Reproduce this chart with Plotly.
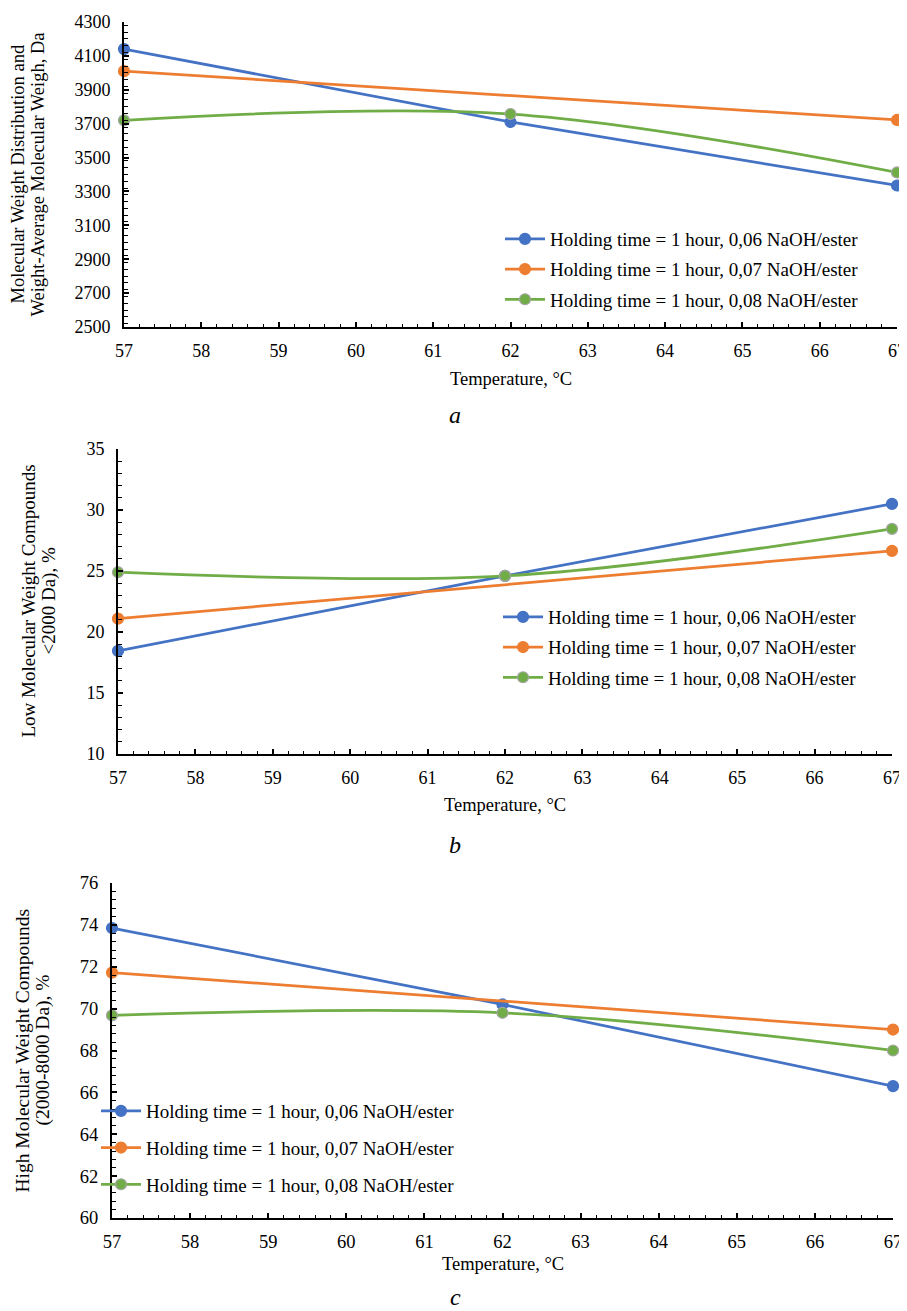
import plotly.graph_objects as go

# ---------------- data ----------------
temps_full = [57, 62, 67]
temps_ends = [57, 67]

series_names = [
    "Holding time = 1 hour, 0,06 NaOH/ester",
    "Holding time = 1 hour, 0,07 NaOH/ester",
    "Holding time = 1 hour, 0,08 NaOH/ester",
]

# panel a: molecular weight, Da
mw_006 = [4140, 3710, 3335]
mw_007 = [4010, 3722]
mw_008 = [3720, 3757, 3412]

# panel b: low molecular weight compounds, %
low_006 = [18.45, 24.6, 30.5]
low_007 = [21.1, 26.65]
low_008 = [24.9, 24.6, 28.45]

# panel c: high molecular weight compounds, %
high_006 = [73.85, 70.2, 66.3]
high_007 = [71.72, 69.0]
high_008 = [69.68, 69.8, 68.0]

x_ticks = list(range(57, 68))

# ---------------- style ----------------
PAGE_W, PAGE_H = 907, 1311
OFF = 8                       # default page margin before the figure
W, H = PAGE_W - OFF, PAGE_H - OFF
FONT = "Liberation Serif"
BLUE, ORANGE, GREEN = "#4472C4", "#ED7D31", "#70AD47"


def px(v):
    return (v - OFF) / W


def py(v):
    return 1 - (v - OFF) / H


panels = [
    dict(x=(124, 897), y=(22, 327), yr=(2500, 4300), dt=200, mdt=40,
         data=(mw_006, mw_007, mw_008),
         ytitle=("Molecular Weight Distribution and", "Weight-Average Molecular Weigh, Da"),
         ytx=(18, 38), tsize=18.5, xt_y=379, lab="a", lab_y=415, leg=(500, 220), gap=2.5, tick=18),
    dict(x=(118, 892), y=(449, 754), yr=(10, 35), dt=5, mdt=1,
         data=(low_006, low_007, low_008),
         ytitle=("Low Molecular Weight Compounds", "&lt;2000 Da), %"),
         ytx=(28, 48), tsize=19, xt_y=805, lab="b", lab_y=845, leg=(498, 598), gap=2.5, tick=18),
    dict(x=(112, 893), y=(883, 1218), yr=(60, 76), dt=2, mdt=0.4,
         data=(high_006, high_007, high_008),
         ytitle=("High Molecular Weight Compounds", "(2000-8000 Da), %"),
         ytx=(22, 42), tsize=19.5, xt_y=1264, lab="c", lab_y=1297, leg=(96, 1092), gap=9, tick=18.5),
]

fig = go.Figure()
annotations = []
colors = [BLUE, ORANGE, GREEN]
mline = [BLUE, ORANGE, "#A5A5A5"]

for i, p in enumerate(panels):
    n = "" if i == 0 else str(i + 1)
    xa, ya = "x" + n, "y" + n
    leg = "legend" + n
    for k in range(3):
        xs = temps_ends if k == 1 else temps_full
        fig.add_trace(go.Scatter(
            x=xs, y=p["data"][k], name=series_names[k],
            mode="lines+markers",
            line=dict(color=colors[k], width=2.75,
                      shape="spline" if k == 2 else "linear", smoothing=1.0),
            marker=dict(size=11, color=colors[k], line=dict(color=mline[k], width=1.2)),
            xaxis=xa, yaxis=ya, legend=leg, legendgroup=f"g{i}{k}",
            cliponaxis=False,
        ))
    axis_common = dict(
        showgrid=False, zeroline=False, showline=True, linecolor="black", linewidth=2,
        ticks="inside", ticklen=5, tickwidth=1.5, tickcolor="black", automargin=False,
        tickfont=dict(family=FONT, size=p["tick"], color="black"),
        ticklabeloverflow="allow",
    )
    fig.layout["xaxis" + n] = dict(
        axis_common, domain=[px(p["x"][0]), px(p["x"][1])], range=[57, 67],
        tickvals=x_ticks, anchor=ya, ticklabelstandoff=6,
        minor=dict(ticks="inside", ticklen=3.5, tickwidth=1.2, tickcolor="black", dtick=0.2),
    )
    fig.layout["yaxis" + n] = dict(
        axis_common, domain=[py(p["y"][1]), py(p["y"][0])], range=list(p["yr"]),
        dtick=p["dt"], tick0=p["yr"][0], anchor=xa, ticklabelstandoff=8,
        minor=dict(ticks="inside", ticklen=4, tickwidth=1.2, tickcolor="black", dtick=p["mdt"]),
    )
    fig.layout[leg] = dict(
        x=px(p["leg"][0]), y=py(p["leg"][1]), xanchor="left", yanchor="top",
        font=dict(family=FONT, size=19, color="black"), bgcolor="rgba(0,0,0,0)",
        itemwidth=40, tracegroupgap=p["gap"], traceorder="grouped",
    )
    cx = (p["x"][0] + p["x"][1]) / 2
    cy = (p["y"][0] + p["y"][1]) / 2
    for line_text, lx in zip(p["ytitle"], p["ytx"]):
        annotations.append(dict(
            text=line_text, textangle=-90, x=px(lx), y=py(cy), xref="paper", yref="paper",
            xanchor="center", yanchor="middle", showarrow=False,
            font=dict(family=FONT, size=p["tsize"], color="black"),
        ))
    annotations.append(dict(
        text="Temperature, °C", x=px(cx), y=py(p["xt_y"]), xref="paper", yref="paper",
        xanchor="center", yanchor="middle", showarrow=False,
        font=dict(family=FONT, size=18.5, color="black"),
    ))
    annotations.append(dict(
        text="<i>" + p["lab"] + "</i>", x=px(455), y=py(p["lab_y"]), xref="paper", yref="paper",
        xanchor="center", yanchor="middle", showarrow=False,
        font=dict(family=FONT, size=24, color="black"),
    ))

fig.update_layout(
    width=W, height=H, margin=dict(l=0, r=0, t=0, b=0, autoexpand=False),
    paper_bgcolor="white", plot_bgcolor="white",
    font=dict(family=FONT, color="black"),
    annotations=annotations, showlegend=True,
)

fig.write_html("out.html")
